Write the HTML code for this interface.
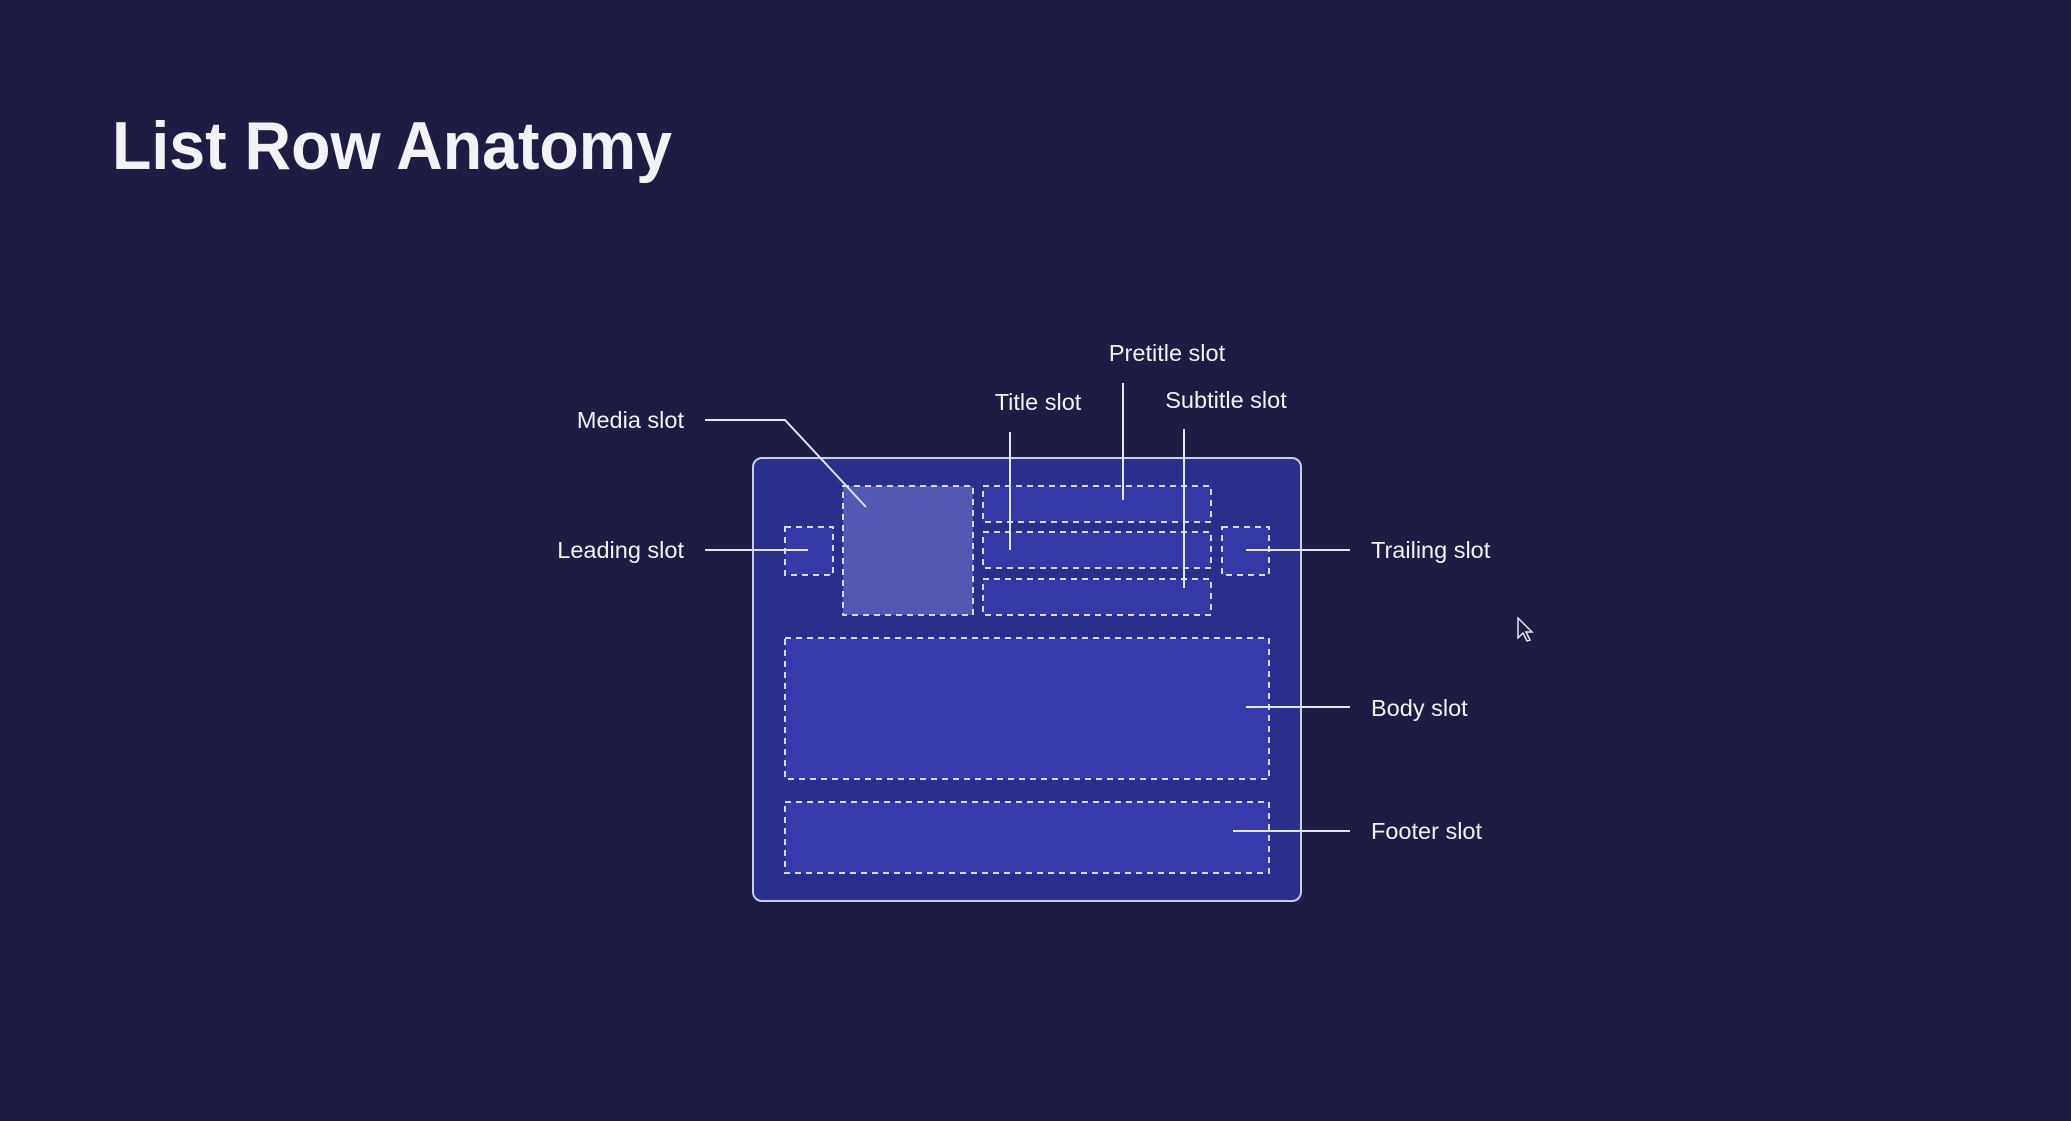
<!DOCTYPE html>
<html><head><meta charset="utf-8"><style>
html,body{margin:0;padding:0;background:#1d1d44;}
svg{display:block}
text{font-family:"Liberation Sans",sans-serif;fill:#f2f2f7}
</style></head><body>
<svg width="2071" height="1121" viewBox="0 0 2071 1121">
<rect x="0" y="0" width="2071" height="1121" fill="#1d1d44"/>
<text x="112" y="169" font-size="68" font-weight="bold" textLength="560" lengthAdjust="spacingAndGlyphs">List Row Anatomy</text>

<rect x="753" y="458" width="548" height="443" rx="9" fill="#2b2f8c" stroke="#c9cbef" stroke-width="2"/>
<g stroke="#d6d8f5" stroke-width="2" stroke-dasharray="6,5">
<rect x="785" y="527" width="48" height="48" fill="#3539a6"/>
<rect x="843" y="486" width="130" height="129" fill="#5558b2"/>
<rect x="983" y="486" width="228" height="36" fill="#3539a6"/>
<rect x="983" y="532" width="228" height="36" fill="#3539a6"/>
<rect x="983" y="579" width="228" height="36" fill="#3539a6"/>
<rect x="1222" y="527" width="47" height="48" fill="#3539a6"/>
<rect x="785" y="638" width="484" height="141" fill="#363aaa"/>
<rect x="785" y="802" width="484" height="71" fill="#363aaa"/>
</g>

<g stroke="#e4e5f7" stroke-width="2" fill="none">
<polyline points="705,420 785,420 866,507"/>
<line x1="705" y1="550" x2="808" y2="550"/>
<line x1="1010" y1="432" x2="1010" y2="550"/>
<line x1="1123" y1="383" x2="1123" y2="500"/>
<line x1="1184" y1="429" x2="1184" y2="588"/>
<line x1="1246" y1="550" x2="1350" y2="550"/>
<line x1="1246" y1="707" x2="1350" y2="707"/>
<line x1="1233" y1="831" x2="1350" y2="831"/>
</g>

<g font-size="23.5">
<text x="684" y="428" text-anchor="end">Media slot</text>
<text x="684" y="558" text-anchor="end">Leading slot</text>
<text x="1038" y="410" text-anchor="middle">Title slot</text>
<text x="1167" y="361" text-anchor="middle">Pretitle slot</text>
<text x="1226" y="408" text-anchor="middle">Subtitle slot</text>
<text x="1371" y="558">Trailing slot</text>
<text x="1371" y="716">Body slot</text>
<text x="1371" y="839">Footer slot</text>
</g>
<path d="M1518,618 L1518,638 L1523,633 L1527,641 L1530,640 L1526,632 L1532,632 Z" fill="#1d1d44" stroke="#e8e8f0" stroke-width="1.5"/>
</svg>
</body></html>
